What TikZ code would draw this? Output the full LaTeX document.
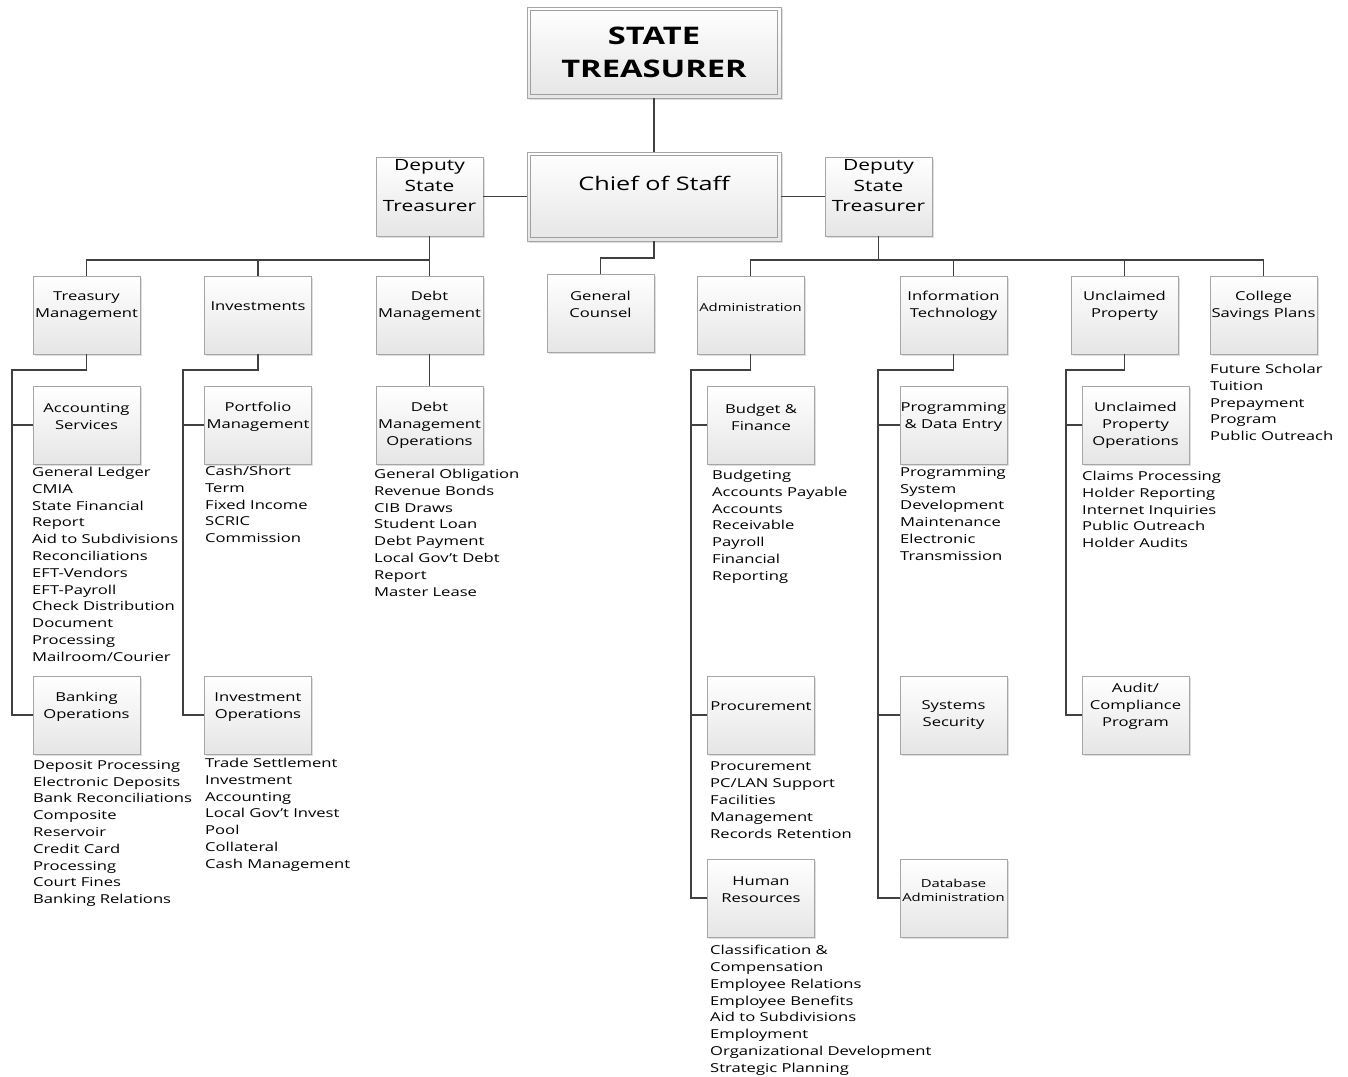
\documentclass[tikz,border=0pt]{standalone}
\usepackage{fontspec}
\setmainfont{Open Sans}[FakeStretch=1.35]
\usetikzlibrary{shadows}
\tikzset{
  box/.style={rectangle, draw=gray!70, top color=white, bottom color=gray!20, inner sep=0pt,
    minimum width=107pt, minimum height=78pt,
    drop shadow={shadow xshift=1.5pt, shadow yshift=-1.5pt, fill=gray!50, opacity=.5}},
  tx/.style={align=center, inner sep=0pt, font=\fontsize{12.3pt}{17pt}\selectfont},
  sm/.style={align=center, inner sep=0pt, font=\fontsize{11pt}{14pt}\selectfont},
  dep/.style={align=center, inner sep=0pt, font=\fontsize{15.5pt}{20.5pt}\selectfont},
  lst/.style={align=left, anchor=north west, inner sep=0pt, font=\fontsize{12.3pt}{16.8pt}\selectfont},
  ln/.style={draw=black!75, line width=1.9pt},
  inner/.style={draw=gray!75, line width=0.8pt}
}
\begin{document}
\begin{tikzpicture}[x=1pt,y=-1pt]
\useasboundingbox[fill=white] (0,0) rectangle (1348,1076);

% top
\node[box, minimum width=254pt, minimum height=91pt] (st) at (654,52.5) {};
\draw[inner] ([xshift=4pt,yshift=-4pt]st.north west) rectangle ([xshift=-4pt,yshift=4pt]st.south east);
\node[align=center, inner sep=0pt, font=\bfseries\fontsize{24.2pt}{33pt}\selectfont] (st-t) at (654,52) {STATE\\TREASURER};

\node[box, minimum width=254pt, minimum height=89pt] (cos) at (654,196.5) {};
\draw[inner] ([xshift=4pt,yshift=-4pt]cos.north west) rectangle ([xshift=-4pt,yshift=4pt]cos.south east);
\node[align=center, inner sep=0pt, font=\fontsize{18.7pt}{22pt}\selectfont] (cos-t) at (654,183) {Chief of Staff};

\node[box, minimum height=79pt] (dl) at (429.5,196.5) {};
\node[dep] (dl-t) at (429.5,186) {Deputy\\State\\Treasurer};
\node[box, minimum height=79pt] (dr) at (878.5,196.5) {};
\node[dep] (dr-t) at (878.5,186) {Deputy\\State\\Treasurer};

% level 2
\node[box] (tm) at (86.5,315) {};
\node[tx] (tm-t) at (86.5,306) {Treasury\\Management};
\node[box] (inv) at (258,315) {};
\node[tx] (inv-t) at (258,306) {Investments};
\node[box] (dm) at (429.5,315) {};
\node[tx] (dm-t) at (429.5,306) {Debt\\Management};
\node[box] (gc) at (600.5,313) {};
\node[tx] (gc-t) at (600.5,304) {General\\Counsel};
\node[box] (adm) at (750.5,315) {};
\node[sm] (adm-t) at (750.5,307) {Administration};
\node[box] (it) at (953.5,315) {};
\node[tx] (it-t) at (953.5,306) {Information\\Technology};
\node[box] (up) at (1124.5,315) {};
\node[tx] (up-t) at (1124.5,306) {Unclaimed\\Property};
\node[box] (csp) at (1263.5,315) {};
\node[tx] (csp-t) at (1263.5,306) {College\\Savings Plans};

% level 3
\node[box] (as) at (86.5,425) {};
\node[tx] (as-t) at (86.5,417) {Accounting\\Services};
\node[box] (pm) at (258,425) {};
\node[tx] (pm-t) at (258,417) {Portfolio\\Management};
\node[box] (dmo) at (429.5,425) {};
\node[tx] (dmo-t) at (429.5,425.5) {Debt\\Management\\Operations};
\node[box] (bf) at (761,425) {};
\node[tx] (bf-t) at (761,417) {Budget \&\\Finance};
\node[box] (pde) at (953.5,425) {};
\node[tx] (pde-t) at (953.5,417) {Programming\\\& Data Entry};
\node[box] (upo) at (1135.5,425) {};
\node[tx] (upo-t) at (1135.5,425.5) {Unclaimed\\Property\\Operations};

% level 4
\node[box] (bo) at (86.5,715) {};
\node[tx] (bo-t) at (86.5,707) {Banking\\Operations};
\node[box] (io) at (258,715) {};
\node[tx] (io-t) at (258,707) {Investment\\Operations};
\node[box] (pr) at (761,715) {};
\node[tx] (pr-t) at (761,706) {Procurement};
\node[box] (ss) at (953.5,715) {};
\node[tx] (ss-t) at (953.5,715) {Systems\\Security};
\node[box] (acp) at (1135.5,715) {};
\node[tx] (acp-t) at (1135.5,706.5) {Audit/\\Compliance\\Program};

% level 5
\node[box] (hr) at (761,898) {};
\node[tx] (hr-t) at (761,890) {Human\\Resources};
\node[box] (db) at (953.5,898) {};
\node[sm] (db-t) at (953.5,890.5) {Database\\Administration};

% lists
\node[lst] (as-l) at (32,467) {General Ledger\\CMIA\\State Financial\\Report\\Aid to Subdivisions\\Reconciliations\\EFT-Vendors\\EFT-Payroll\\Check Distribution\\Document\\Processing\\Mailroom/Courier};
\node[lst] (pm-l) at (205,466) {Cash/Short\\Term\\Fixed Income\\SCRIC\\Commission};
\node[lst] (dmo-l) at (374,469) {General Obligation\\Revenue Bonds\\CIB Draws\\Student Loan\\Debt Payment\\Local Gov’t Debt\\Report\\Master Lease};
\node[lst] (bf-l) at (712,470) {Budgeting\\Accounts Payable\\Accounts\\Receivable\\Payroll\\Financial\\Reporting};
\node[lst] (pde-l) at (900,467) {Programming\\System\\Development\\Maintenance\\Electronic\\Transmission};
\node[lst] (upo-l) at (1082,471) {Claims Processing\\Holder Reporting\\Internet Inquiries\\Public Outreach\\Holder Audits};
\node[lst] (csp-l) at (1210,364) {Future Scholar\\Tuition\\Prepayment\\Program\\Public Outreach};
\node[lst] (bo-l) at (33,760) {Deposit Processing\\Electronic Deposits\\Bank Reconciliations\\Composite\\Reservoir\\Credit Card\\Processing\\Court Fines\\Banking Relations};
\node[lst] (io-l) at (205,758) {Trade Settlement\\Investment\\Accounting\\Local Gov’t Invest\\Pool\\Collateral\\Cash Management};
\node[lst] (pr-l) at (710,762) {Procurement\\PC/LAN Support\\Facilities\\Management\\Records Retention};
\node[lst] (hr-l) at (710,945) {Classification \&\\Compensation\\Employee Relations\\Employee Benefits\\Aid to Subdivisions\\Employment\\Organizational Development\\Strategic Planning};

% connectors
\draw[ln] (st.south) -- (cos.north);
\draw[ln] (dl.east) -- (cos.west);
\draw[ln] (cos.east) -- (dr.west);

\coordinate (busL) at (429.5,260);
\draw[ln] (dl.south) -- (busL) -- (dm.north);
\draw[ln] (tm.north) |- (busL);
\draw[ln] (inv.north) -- (inv.north |- busL);

\coordinate (gcv) at (654,258);
\draw[ln] (cos.south) -- (gcv) -| (gc.north);

\coordinate (busR) at (878.5,260);
\draw[ln] (dr.south) -- (busR);
\draw[ln] (adm.north) |- (csp.north |- busR) -- (csp.north);
\draw[ln] (it.north) -- (it.north |- busR);
\draw[ln] (up.north) -- (up.north |- busR);

\draw[ln] (dm.south) -- (dmo.north);

\coordinate (tmv) at (12,370);
\draw[ln] (tm.south) |- (tmv) |- (bo.west);
\draw[ln] (tmv |- as.west) -- (as.west);

\coordinate (invv) at (183,370);
\draw[ln] (inv.south) |- (invv) |- (io.west);
\draw[ln] (invv |- pm.west) -- (pm.west);

\coordinate (admv) at (691,370);
\draw[ln] (adm.south) |- (admv) |- (hr.west);
\draw[ln] (admv |- bf.west) -- (bf.west);
\draw[ln] (admv |- pr.west) -- (pr.west);

\coordinate (itv) at (878,370);
\draw[ln] (it.south) |- (itv) |- (db.west);
\draw[ln] (itv |- pde.west) -- (pde.west);
\draw[ln] (itv |- ss.west) -- (ss.west);

\coordinate (upv) at (1066,370);
\draw[ln] (up.south) |- (upv) |- (acp.west);
\draw[ln] (upv |- upo.west) -- (upo.west);
\end{tikzpicture}
\end{document}
